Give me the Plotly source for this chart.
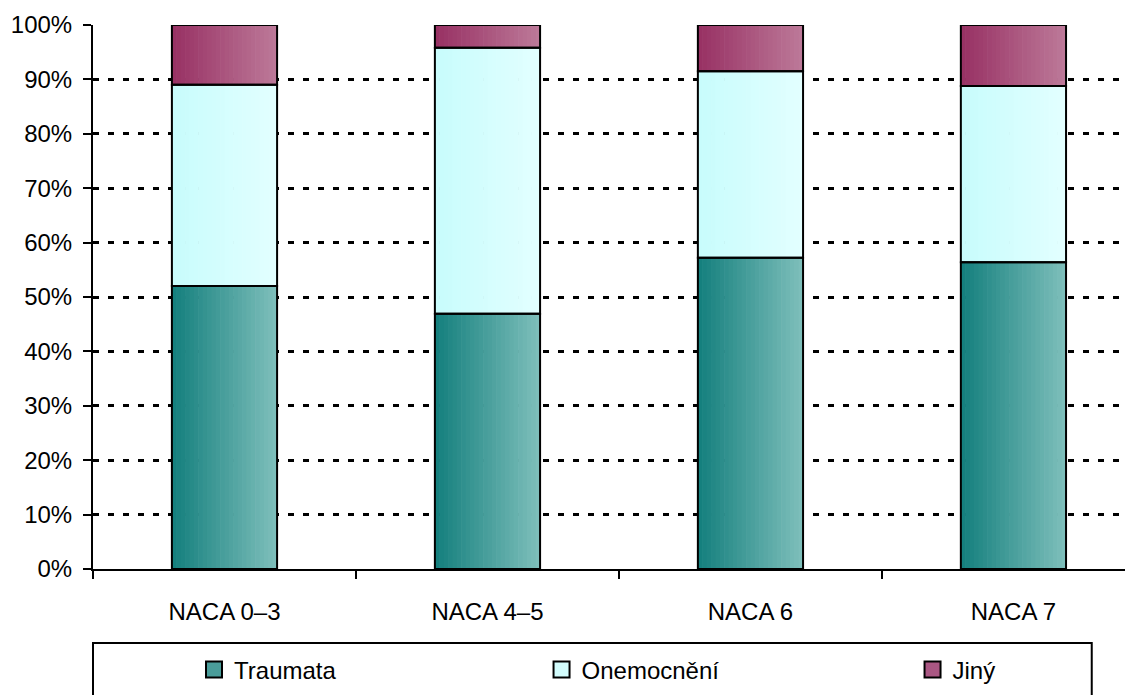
import plotly.graph_objects as go

categories = ["NACA 0–3", "NACA 4–5", "NACA 6", "NACA 7"]
traumata = [0.520, 0.469, 0.572, 0.564]
onemocneni = [0.370, 0.489, 0.343, 0.324]
jiny = [0.110, 0.042, 0.085, 0.112]
y_ticks = [i / 10 for i in range(11)]

FONT = "Liberation Sans, Arial, sans-serif"
FS = 24
BAR_W = 0.4
N_SLICES = 24
# gradient (left colour, right colour) per series
grad = {
    "Traumata": ((21, 128, 126), (125, 190, 186)),
    "Onemocnění": ((200, 252, 252), (226, 255, 255)),
    "Jiný": ((152, 50, 100), (188, 120, 152)),
}
legend_colors = {"Traumata": "#4A9D9A", "Onemocnění": "#D2FCFC", "Jiný": "#AA5783"}
legend_ids = {"Traumata": "legend", "Onemocnění": "legend2", "Jiný": "legend3"}

series = [("Traumata", traumata), ("Onemocnění", onemocneni), ("Jiný", jiny)]
bases = []
run = [0.0] * len(categories)
for _, vals in series:
    bases.append(list(run))
    run = [r + v for r, v in zip(run, vals)]

def mix(c0, c1, t):
    return "rgb(%d,%d,%d)" % tuple(round(a + (b - a) * t) for a, b in zip(c0, c1))

fig = go.Figure()
sw = BAR_W / N_SLICES
for (name, vals), base in zip(series, bases):
    c0, c1 = grad[name]
    for i in range(N_SLICES):
        t = i / (N_SLICES - 1)
        fig.add_trace(go.Bar(
            x=categories, y=vals, base=base, width=sw * 1.15,
            offset=-BAR_W / 2 + i * sw, showlegend=False, hoverinfo="skip",
            marker=dict(color=mix(c0, c1, t), line=dict(width=0)),
        ))
for (name, vals), base in zip(series, bases):
    fig.add_trace(go.Bar(
        x=categories, y=vals, base=base, name=name, width=BAR_W,
        showlegend=False,
        marker=dict(color="rgba(0,0,0,0)", line=dict(color="black", width=2)),
    ))
    fig.add_trace(go.Scatter(
        x=[None], y=[None], mode="markers", name=name, legend=legend_ids[name],
        marker=dict(symbol="square", size=18, color=legend_colors[name],
                    line=dict(color="black", width=2)),
    ))

leg_common = dict(orientation="h", xanchor="left", y=-0.1857, yanchor="middle",
                  bgcolor="rgba(0,0,0,0)", borderwidth=0,
                  font=dict(family=FONT, size=FS, color="black"))

fig.update_layout(
    barmode="overlay",
    width=1133, height=695,
    margin=dict(l=85, r=0, t=17, b=134, autoexpand=False),
    paper_bgcolor="white", plot_bgcolor="white",
    font=dict(family=FONT, size=FS, color="black"),
    legend=dict(x=0.0964, **leg_common),
    legend2=dict(x=0.428, **leg_common),
    legend3=dict(x=0.782, **leg_common),
    shapes=[dict(type="rect", xref="paper", yref="paper",
                 x0=0, x1=0.953, y0=-0.136, y1=-0.32,
                 line=dict(color="black", width=2), fillcolor="rgba(0,0,0,0)")],
)
fig.update_xaxes(
    range=[-0.5, 3.485], showline=True, linecolor="black", linewidth=2,
    ticks="outside", ticklen=8, tickwidth=2, tickcolor="black",
    tickson="boundaries", showgrid=False, ticklabelstandoff=20, automargin=False,
)
fig.update_yaxes(
    range=[0, 1], tickvals=y_ticks, tickformat=".0%",
    showline=True, linecolor="black", linewidth=2,
    ticks="outside", ticklen=8, tickwidth=2, tickcolor="black",
    showgrid=True, gridcolor="black", gridwidth=2.5, griddash="6px,9px",
    zeroline=False, ticklabelstandoff=6, automargin=False,
)

fig.write_html("out.html")
